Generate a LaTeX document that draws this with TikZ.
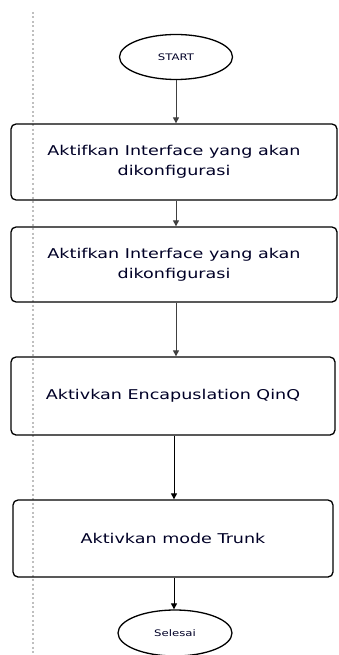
\documentclass[tikz,border=0pt]{standalone}
\usepackage{fontspec}
\setmainfont{DejaVu Sans}
\newfontfamily\widefont[FakeStretch=1.3]{DejaVu Sans}
\usetikzlibrary{arrows.meta,shapes.geometric}
\begin{document}
\begin{tikzpicture}[x=1pt,y=-1pt,
  stepbox/.style={draw=black,line width=1.3pt,rounded corners=5pt,inner sep=0pt,align=center,font=\widefont\fontsize{13.5}{20}\selectfont,text=black!85!blue},
  term/.style={draw=black,line width=1.3pt,ellipse,inner sep=0pt,font=\widefont\fontsize{9}{10}\selectfont,text=black!85!blue},
  flow/.style={draw=black!75,line width=1pt,-{Triangle[length=6pt,width=6pt]}}]
\useasboundingbox (0,0) rectangle (338,655);
\draw[black!25,line width=1.8pt,dash pattern=on 2pt off 2.5pt] (33,12) -- (33,655);
\node[term,minimum width=113pt,minimum height=45pt] (start) at (176,57) {START};
\node[stepbox,minimum width=326pt,minimum height=76pt] (b1) at (174,162) {Aktifkan Interface yang akan\\dikonfigurasi};
\node[stepbox,minimum width=326pt,minimum height=75pt] (b2) at (174,264.5) {Aktifkan Interface yang akan\\dikonfigurasi};
\node[stepbox,minimum width=324pt,minimum height=78pt] (b3) at (173,396) {Aktivkan Encapuslation QinQ};
\node[stepbox,minimum width=320pt,minimum height=77pt] (b4) at (173,538.5) {Aktivkan mode Trunk};
\node[term,minimum width=114pt,minimum height=46pt] (end) at (175,633) {Selesai};
\draw[flow] (start.south) -- (start.south |- b1.north);
\draw[flow] (b1.south -| start.south) -- (b2.north -| start.south);
\draw[flow] (b2.south -| start.south) -- (b3.north -| start.south);
\draw[flow,draw=black] ([xshift=1pt]b3.south) -- ([xshift=1pt]b4.north);
\draw[flow,draw=black] ([xshift=1pt]b4.south) -- ([xshift=1pt]b4.south |- end.north);
\end{tikzpicture}
\end{document}
